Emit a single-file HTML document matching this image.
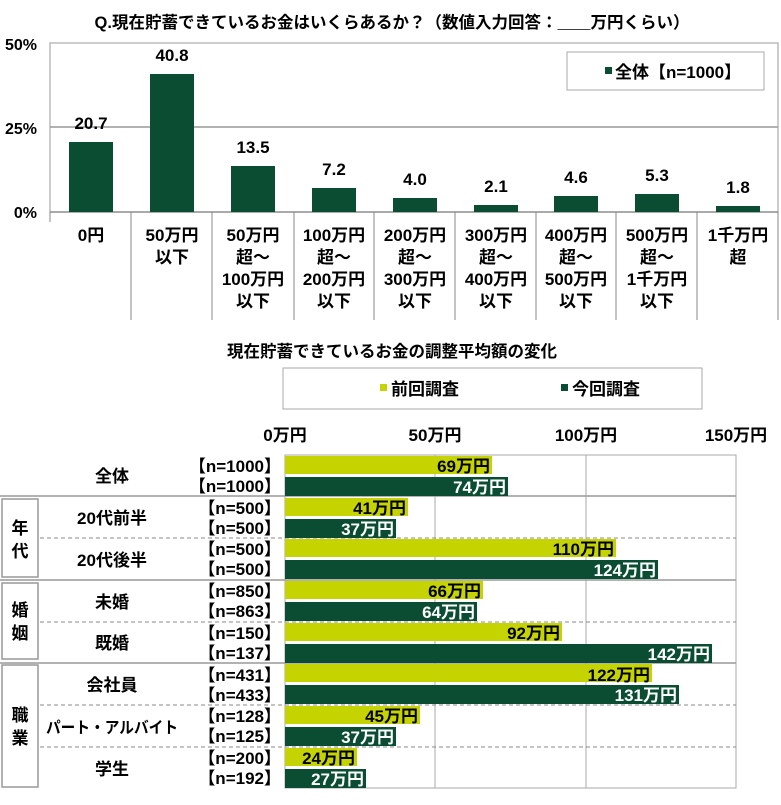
<!DOCTYPE html>
<html><head><meta charset="utf-8"><style>
body{margin:0;background:#fff}
svg text{font-family:"Liberation Sans","Noto Sans CJK JP",sans-serif;font-weight:bold}
</style></head><body>
<svg width="781" height="800" xmlns="http://www.w3.org/2000/svg">
<text x="392" y="28" font-size="16.5" text-anchor="middle">Q.現在貯蓄できているお金はいくらあるか？（数値入力回答：＿＿万円くらい）</text>
<!-- top chart -->
<rect x="50" y="43" width="728" height="169" fill="none" stroke="#bbb" stroke-width="1.5"/>
<line x1="50" y1="127" x2="778" y2="127" stroke="#999" stroke-width="1.5"/>
<line x1="50" y1="212" x2="778" y2="212" stroke="#999" stroke-width="1.5"/>
<text x="37" y="50" font-size="16" text-anchor="end">50%</text>
<text x="37" y="134" font-size="16" text-anchor="end">25%</text>
<text x="37" y="218" font-size="16" text-anchor="end">0%</text>
<rect x="567" y="52" width="197" height="38" fill="#fff" stroke="#aaa"/>
<rect x="605" y="67" width="7" height="7" fill="#0a4d33"/>
<text x="615" y="78" font-size="17">全体【n=1000】</text>
<g fill="#0a4d33">
<rect x="69" y="142" width="44" height="70"/>
<rect x="150" y="74" width="44" height="138"/>
<rect x="231" y="166" width="44" height="46"/>
<rect x="312" y="188" width="44" height="24"/>
<rect x="393" y="198" width="44" height="14"/>
<rect x="474" y="205" width="44" height="7"/>
<rect x="554" y="196" width="44" height="16"/>
<rect x="635" y="194" width="44" height="18"/>
<rect x="716" y="206" width="44" height="6"/>
</g>
<g font-size="17" text-anchor="middle">
<text x="91" y="129">20.7</text><text x="172" y="61">40.8</text><text x="253" y="153">13.5</text>
<text x="334" y="175">7.2</text><text x="415" y="185">4.0</text><text x="496" y="192">2.1</text>
<text x="576" y="183">4.6</text><text x="657" y="181">5.3</text><text x="738" y="193">1.8</text>
</g>
<g stroke="#888"><line x1="50" y1="212" x2="50" y2="222"/>
<line x1="131" y1="212" x2="131" y2="320"/><line x1="212" y1="212" x2="212" y2="320"/><line x1="294" y1="212" x2="294" y2="320"/><line x1="374" y1="212" x2="374" y2="320"/><line x1="455" y1="212" x2="455" y2="320"/><line x1="536" y1="212" x2="536" y2="320"/><line x1="616" y1="212" x2="616" y2="320"/><line x1="697" y1="212" x2="697" y2="320"/><line x1="778" y1="212" x2="778" y2="320"/></g>
<g font-size="17" text-anchor="middle">
<text x="91" y="241">0円</text>
<text x="172" y="241">50万円</text><text x="172" y="263">以下</text>
<text x="253" y="241">50万円</text><text x="253" y="263">超～</text><text x="253" y="285">100万円</text><text x="253" y="307">以下</text>
<text x="334" y="241">100万円</text><text x="334" y="263">超～</text><text x="334" y="285">200万円</text><text x="334" y="307">以下</text>
<text x="415" y="241">200万円</text><text x="415" y="263">超～</text><text x="415" y="285">300万円</text><text x="415" y="307">以下</text>
<text x="496" y="241">300万円</text><text x="496" y="263">超～</text><text x="496" y="285">400万円</text><text x="496" y="307">以下</text>
<text x="576" y="241">400万円</text><text x="576" y="263">超～</text><text x="576" y="285">500万円</text><text x="576" y="307">以下</text>
<text x="657" y="241">500万円</text><text x="657" y="263">超～</text><text x="657" y="285">1千万円</text><text x="657" y="307">以下</text>
<text x="738" y="241">1千万円</text><text x="738" y="263">超</text>
</g>
<!-- bottom chart -->
<text x="392" y="357" font-size="16.5" text-anchor="middle">現在貯蓄できているお金の調整平均額の変化</text>
<rect x="283" y="368" width="419" height="41" fill="#fff" stroke="#aaa"/>
<rect x="380" y="384" width="7" height="7" fill="#c5d400"/><text x="391" y="395" font-size="17">前回調査</text>
<rect x="561" y="384" width="7" height="7" fill="#0a4d33"/><text x="572" y="395" font-size="17">今回調査</text>
<g font-size="17" text-anchor="middle"><text x="285" y="441">0万円</text><text x="435" y="441">50万円</text><text x="586" y="441">100万円</text><text x="736" y="441">150万円</text></g>
<rect x="285" y="455" width="451" height="333" fill="none" stroke="#aaa"/>
<g stroke="#aaa"><line x1="435" y1="455" x2="435" y2="788"/><line x1="586" y1="455" x2="586" y2="788"/></g>
<g stroke="#999" stroke-width="1.5"><line x1="0" y1="496" x2="736" y2="496"/><line x1="0" y1="580" x2="736" y2="580"/><line x1="0" y1="663" x2="736" y2="663"/></g>
<g stroke="#888" stroke-dasharray="4,3"><line x1="40" y1="538" x2="736" y2="538"/><line x1="40" y1="622" x2="736" y2="622"/><line x1="40" y1="705" x2="736" y2="705"/><line x1="40" y1="747" x2="736" y2="747"/></g>
<g fill="none" stroke="#999" stroke-width="1.5"><rect x="2" y="499" width="36" height="78"/><rect x="2" y="583" width="36" height="76"/><rect x="2" y="665" width="36" height="122"/></g>
<g font-size="17" text-anchor="middle">
<text x="20" y="534">年</text><text x="20" y="557">代</text>
<text x="20" y="616">婚</text><text x="20" y="639">姻</text>
<text x="20" y="721">職</text><text x="20" y="744">業</text>
<text x="112" y="482">全体</text><text x="112" y="524">20代前半</text><text x="112" y="566">20代後半</text>
<text x="112" y="608">未婚</text><text x="112" y="649">既婚</text><text x="112" y="691">会社員</text>
<text x="112" y="733" font-size="16" textLength="132" lengthAdjust="spacingAndGlyphs">パート・アルバイト</text><text x="112" y="775">学生</text>
</g>
<g font-size="17" text-anchor="end">
<text x="281" y="472">【n=1000】</text><text x="281" y="492">【n=1000】</text>
<text x="281" y="514">【n=500】</text><text x="281" y="534">【n=500】</text>
<text x="281" y="555">【n=500】</text><text x="281" y="575">【n=500】</text>
<text x="281" y="597">【n=850】</text><text x="281" y="617">【n=863】</text>
<text x="281" y="639">【n=150】</text><text x="281" y="659">【n=137】</text>
<text x="281" y="681">【n=431】</text><text x="281" y="701">【n=433】</text>
<text x="281" y="722">【n=128】</text><text x="281" y="742">【n=125】</text>
<text x="281" y="764">【n=200】</text><text x="281" y="784">【n=192】</text>
</g>
<g fill="#c5d400">
<rect x="285" y="456" width="207" height="18"/><rect x="285" y="498" width="123" height="18"/>
<rect x="285" y="539" width="331" height="18"/><rect x="285" y="581" width="198" height="18"/>
<rect x="285" y="623" width="277" height="18"/><rect x="285" y="664" width="367" height="18"/>
<rect x="285" y="706" width="135" height="18"/><rect x="285" y="748" width="72" height="18"/>
</g>
<g fill="#0a4d33">
<rect x="285" y="477" width="223" height="19"/><rect x="285" y="519" width="111" height="19"/>
<rect x="285" y="560" width="373" height="19"/><rect x="285" y="602" width="192" height="19"/>
<rect x="285" y="644" width="427" height="19"/><rect x="285" y="685" width="394" height="19"/>
<rect x="285" y="727" width="111" height="19"/><rect x="285" y="769" width="81" height="19"/>
</g>
<g font-size="17" text-anchor="end">
<text x="490" y="472">69万円</text><text x="406" y="514">41万円</text><text x="614" y="555">110万円</text>
<text x="481" y="597">66万円</text><text x="560" y="639">92万円</text><text x="650" y="681">122万円</text>
<text x="418" y="722">45万円</text><text x="355" y="764">24万円</text>
</g>
<g font-size="17" text-anchor="end" fill="#fff">
<text x="506" y="493">74万円</text><text x="394" y="535">37万円</text><text x="656" y="576">124万円</text>
<text x="475" y="618">64万円</text><text x="710" y="660">142万円</text><text x="677" y="701">131万円</text>
<text x="394" y="743">37万円</text><text x="364" y="785">27万円</text>
</g>
</svg>
</body></html>
